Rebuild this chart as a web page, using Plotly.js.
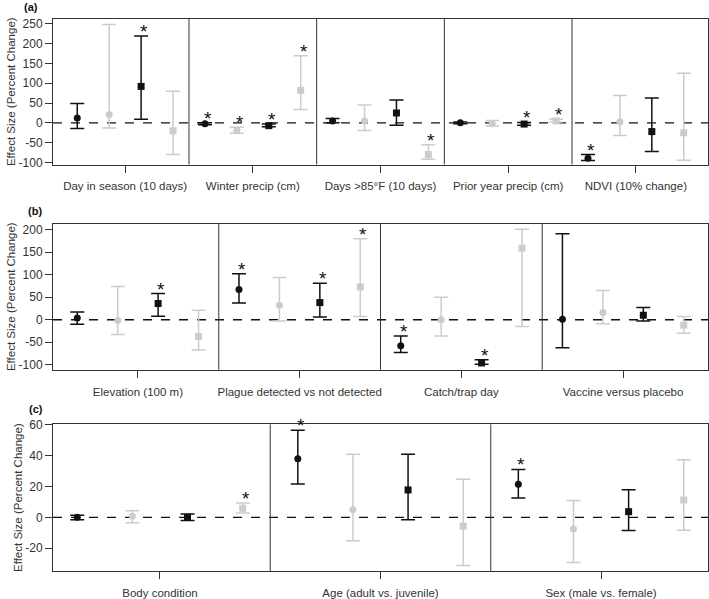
<!DOCTYPE html>
<html>
<head>
<meta charset="utf-8">
<script src="https://cdn.plot.ly/plotly-3.0.1.min.js"></script>
<style>html,body{margin:0;padding:0;background:#fff;}#chart{width:709px;height:599px;}</style>
</head>
<body>
<div id="chart"></div>
<script>
// ---------- DATA ----------
// Series order: black circle, gray circle, black square, gray square
var seriesNames = ['Series 1', 'Series 2', 'Series 3', 'Series 4'];

// Panel (a)
var catsA = ['Day in season (10 days)', 'Winter precip (cm)', 'Days >85°F (10 days)', 'Prior year precip (cm)', 'NDVI (10% change)'];
var estA = [[12, -2.5, 5, 0, -89], [21, -19, 5, -2, 3], [92, -7, 25, -3, -22], [-20, 82, -80, 5, -25]];
var upA  = [[49, 0, 11, 2, -80], [248, -11, 45, 6, 69], [219, -3, 58, 1, 63], [80, 169, -55, 9, 125]];
var loA  = [[-14, -5, 0, -2, -95], [-13, -26, -19, -8, -32], [9, -10, -6, -6, -72], [-80, 34, -92, 2, -94]];
var sigA = [[0, 1, 0, 0, 1], [0, 1, 0, 0, 0], [1, 1, 0, 1, 0], [0, 1, 1, 1, 0]];
var yticksA = [-100, -50, 0, 50, 100, 150, 200, 250];

// Panel (b)
var catsB = ['Elevation (100 m)', 'Plague detected vs not detected', 'Catch/trap day', 'Vaccine versus placebo'];
var estB = [[4, 67, -58, 1], [-1.5, 32, 0, 16], [36, 38, -96, 10], [-37, 73, 159, -12]];
var upB  = [[17, 102, -36, 191], [74, 94, 50, 65], [58, 81, -89, 27], [21, 180, 201, 7]];
var loB  = [[-10, 37, -73, -62], [-33, -3, -36, -9], [8, 6, -99, -3], [-67, 7, -15, -30]];
var sigB = [[0, 1, 1, 0], [0, 0, 0, 0], [1, 1, 1, 0], [0, 1, 0, 0]];
var yticksB = [-100, -50, 0, 50, 100, 150, 200];

// Panel (c)
var catsC = ['Body condition', 'Age (adult vs. juvenile)', 'Sex (male vs. female)'];
var estC = [[0, 38, 21.5], [0.7, 5, -7.6], [0, 17.8, 3.7], [5.9, -5.7, 11.3]];
var upC  = [[1.3, 56.5, 31.1], [4.3, 40.9, 10.9], [2.2, 40.9, 18], [9.3, 24.8, 37.4]];
var loC  = [[-1.5, 21.7, 12.6], [-3.5, -15.2, -29.3], [-2, -1.5, -8.5], [2.8, -31.3, -8.3]];
var sigC = [[0, 1, 1], [0, 0, 0], [0, 0, 0], [1, 0, 0]];
var yticksC = [-20, 0, 20, 40, 60];

// ---------- STYLE ----------
var BLACK = '#111111', GRAY = '#cccccc';
var colors = [BLACK, GRAY, BLACK, GRAY];
var symbols = ['circle', 'circle', 'square', 'square'];
var offsets = [-0.375, -0.125, 0.125, 0.375];
var AXC = '#333333';
var FONT = 'Liberation Sans, Arial, sans-serif';
var ML = 53, MR = 1, MT = 19, MB = 28;
var W = 709, H = 599;
var plotW = W - ML - MR, plotH = H - MT - MB;

function domFromPx(topPx, botPx) {
  return [(H - MB - botPx) / plotH, (H - MB - topPx) / plotH];
}

var panels = [
  {cats: catsA, est: estA, up: upA, lo: loA, sig: sigA, yt: yticksA, yr: [-105, 262], px: [19, 164.5], label: '(a)', lx: 22, ly: 7},
  {cats: catsB, est: estB, up: upB, lo: loB, sig: sigB, yt: yticksB, yr: [-111, 213.3], px: [223.7, 369.7], label: '(b)', lx: 26, ly: 211},
  {cats: catsC, est: estC, up: upC, lo: loC, sig: sigC, yt: yticksC, yr: [-34.8, 60.4], px: [424.3, 571], label: '(c)', lx: 27, ly: 409}
];

var traces = [], shapes = [], annotations = [];
var layout = {
  width: W, height: H,
  margin: {l: ML, r: MR, t: MT, b: MB},
  paper_bgcolor: '#ffffff', plot_bgcolor: '#ffffff',
  showlegend: false,
  font: {family: FONT, size: 12, color: AXC}
};

panels.forEach(function (p, pi) {
  var n = p.cats.length;
  var sfx = (pi === 0 ? '' : String(pi + 1));
  var xa = 'x' + sfx, ya = 'y' + sfx;
  var lo = 0.625, hi = n + 0.375, pad = (hi - lo) * 0.04;
  var tv = [];
  for (var i = 1; i <= n; i++) tv.push(i);

  layout['xaxis' + sfx] = {
    domain: [0, 1], anchor: ya, range: [lo - pad, hi + pad],
    tickvals: tv, ticktext: p.cats, ticks: 'outside', ticklen: 7, tickwidth: 1, tickcolor: AXC,
    ticklabelstandoff: 4,
    showgrid: false, zeroline: false, showline: true, linecolor: AXC, linewidth: 1, mirror: true,
    tickfont: {family: FONT, size: 11.5, color: AXC}, fixedrange: true
  };
  layout['yaxis' + sfx] = {
    domain: domFromPx(p.px[0], p.px[1]), anchor: xa, range: p.yr,
    tickvals: p.yt, ticktext: p.yt.map(function (v) { return v < 0 ? '-' + Math.abs(v) : String(v); }),
    ticks: 'outside', ticklen: 7, tickwidth: 1, tickcolor: AXC,
    showgrid: false, zeroline: false, showline: true, linecolor: AXC, linewidth: 1, mirror: true,
    tickfont: {family: FONT, size: 12, color: AXC},
    title: {text: 'Effect Size (Percent Change)', font: {family: FONT, size: 11.5, color: AXC}, standoff: 0},
    fixedrange: true
  };

  // dividers between groups
  for (var d = 1; d < n; d++) {
    shapes.push({type: 'line', xref: xa, yref: ya + ' domain', x0: d + 0.5, x1: d + 0.5, y0: 0, y1: 1,
      line: {color: AXC, width: 1}});
  }
  // zero reference
  shapes.push({type: 'line', xref: xa + ' domain', yref: ya, x0: 0, x1: 1, y0: 0, y1: 0,
    line: {color: BLACK, width: 1.3, dash: 'dash'}, layer: 'below'});

  for (var s = 0; s < 4; s++) {
    var xs = [], ys = [], eu = [], el = [];
    for (var g = 0; g < n; g++) {
      xs.push(g + 1 + offsets[s]);
      ys.push(p.est[s][g]);
      eu.push(p.up[s][g] - p.est[s][g]);
      el.push(p.est[s][g] - p.lo[s][g]);
      if (p.sig[s][g]) {
        annotations.push({xref: xa, yref: ya, x: g + 1 + offsets[s], y: p.up[s][g], text: '*',
          showarrow: false, xanchor: 'center', yanchor: 'bottom', xshift: 3, yshift: -8,
          font: {family: FONT, size: 19, color: BLACK}});
      }
    }
    traces.push({
      type: 'scatter', mode: 'markers', name: seriesNames[s], xaxis: xa, yaxis: ya,
      x: xs, y: ys, cliponaxis: false,
      marker: {symbol: symbols[s], size: 7, color: colors[s], line: {width: 0}},
      error_y: {type: 'data', symmetric: false, array: eu, arrayminus: el, color: colors[s], thickness: 1.5, width: 7},
      hoverinfo: 'x+y'
    });
  }

  annotations.push({xref: 'paper', yref: 'paper', x: (p.lx - ML) / plotW, y: (H - MB - p.ly) / plotH,
    text: '<b>' + p.label + '</b>', showarrow: false, xanchor: 'left', yanchor: 'middle',
    font: {family: FONT, size: 11, color: BLACK}});
});

layout.shapes = shapes;
layout.annotations = annotations;

Plotly.newPlot('chart', traces, layout, {displayModeBar: false, staticPlot: true});
</script>
</body>
</html>
